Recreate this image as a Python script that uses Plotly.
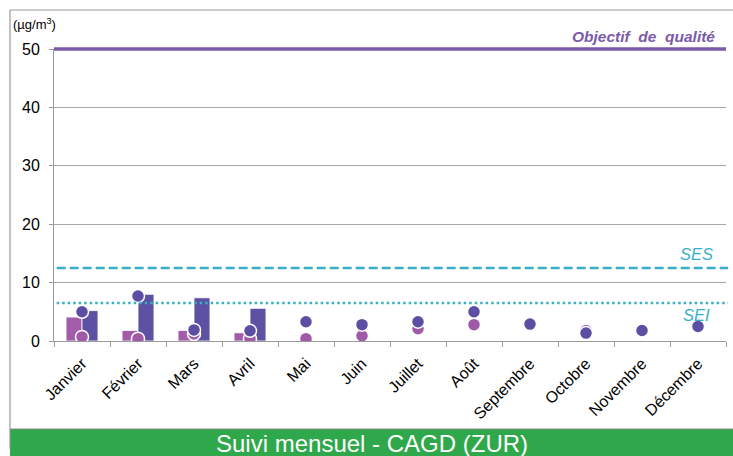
import plotly.graph_objects as go

# Monthly values (µg/m³)
months = ["Janvier", "Février", "Mars", "Avril", "Mai", "Juin", "Juillet",
          "Août", "Septembre", "Octobre", "Novembre", "Décembre"]
bar_site_a = [4.1, 1.8, 1.8, 1.4, None, None, None, None, None, None, None, None]
bar_site_b = [5.2, 8.0, 7.4, 5.6, None, None, None, None, None, None, None, None]
dot_site_a = [0.7, 0.4, 1.2, 0.4, 0.4, 0.9, 2.1, 2.8, 2.9, 1.8, 1.8, 2.7]
dot_site_b = [5.0, 7.7, 1.9, 1.75, 3.3, 2.8, 3.3, 5.0, 2.9, 1.35, 1.8, 2.5]

# Reference thresholds
objectif = 50
ses = 12.5
sei = 6.5

y_ticks = [0, 10, 20, 30, 40, 50]
y_max = 50

PINK_BAR = "#A25CAA"
PURPLE_BAR = "#5D51A3"
PINK_DOT = "#A05AA8"
PURPLE_DOT = "#5B4EA3"
CYAN = "#3AAEC9"
OBJ_COLOR = "#7B5AA8"
GREEN = "#2EA84A"
FONT = "Arial, Liberation Sans, sans-serif"

fig = go.Figure()
fig.add_trace(go.Bar(x=months, y=bar_site_a, marker=dict(color=PINK_BAR, line=dict(color="white", width=0.8)),
                     showlegend=False, hoverinfo="y"))
fig.add_trace(go.Bar(x=months, y=bar_site_b, marker=dict(color=PURPLE_BAR, line=dict(color="white", width=0.8)),
                     showlegend=False, hoverinfo="y"))
fig.add_trace(go.Scatter(x=months, y=dot_site_a, mode="markers",
                         marker=dict(size=13, color=PINK_DOT, line=dict(color="white", width=1.5)),
                         showlegend=False))
fig.add_trace(go.Scatter(x=months, y=dot_site_b, mode="markers",
                         marker=dict(size=13, color=PURPLE_DOT, line=dict(color="white", width=1.5)),
                         showlegend=False))

shapes = [
    # outer frame
    dict(type="line", xref="paper", yref="paper", x0=-0.0655, x1=-0.0655, y0=-0.37, y1=1.1336,
         line=dict(color="#9a9a9a", width=1.2)),
    dict(type="line", xref="paper", yref="paper", x0=-0.0655, x1=1.02, y0=1.1336, y1=1.1336,
         line=dict(color="#9a9a9a", width=1.2)),
    # bottom banner
    dict(type="rect", xref="paper", yref="paper", x0=-0.0655, x1=1.02, y0=-0.40, y1=-0.3014,
         fillcolor=GREEN, line=dict(width=0), layer="below"),
    dict(type="line", xref="paper", yref="paper", x0=-0.0655, x1=1.02, y0=-0.3014, y1=-0.3014,
         line=dict(color="#8a8a8a", width=1.2)),
    # quality objective sits on the top edge; paper coords keep it unclipped
    dict(type="line", xref="paper", yref="paper", x0=0, x1=1.0,
         y0=objectif / y_max, y1=objectif / y_max,
         line=dict(color=OBJ_COLOR, width=3.5)),
    dict(type="line", xref="paper", yref="y", x0=0.004, x1=1.003, y0=ses, y1=ses,
         line=dict(color=CYAN, width=2.5, dash="9px,4px")),
    dict(type="line", xref="paper", yref="y", x0=0.004, x1=1.003, y0=sei, y1=sei,
         line=dict(color=CYAN, width=2.5, dash="2.5px,3px")),
]

annotations = [
    dict(text="(µg/m<sup>3</sup>)", xref="paper", yref="paper", x=-0.064, y=1.12,
         xanchor="left", yanchor="top", showarrow=False, font=dict(family=FONT, size=13, color="black")),
    dict(text="<b><i>Objectif  de  qualité</i></b>", xref="paper", yref="y", x=0.987, y=objectif,
         xanchor="right", yanchor="bottom", yshift=2, showarrow=False,
         font=dict(family=FONT, size=15.5, color=OBJ_COLOR)),
    dict(text="<i>SES</i>", xref="paper", yref="y", x=0.984, y=ses, xanchor="right", yanchor="bottom",
         yshift=3, showarrow=False, font=dict(family=FONT, size=16.5, color=CYAN)),
    dict(text="<i>SEI</i>", xref="paper", yref="y", x=0.979, y=sei, xanchor="right", yanchor="top",
         yshift=-1, showarrow=False, font=dict(family=FONT, size=16.5, color=CYAN)),
    dict(text="Suivi mensuel - CAGD (ZUR)", xref="paper", yref="paper", x=0.473, y=-0.352,
         xanchor="center", yanchor="middle", showarrow=False,
         font=dict(family=FONT, size=24, color="white")),
]

fig.update_layout(
    width=733, height=456,
    margin=dict(l=54, r=7, t=49, b=115),
    paper_bgcolor="white", plot_bgcolor="white",
    barmode="group", bargap=0.43, bargroupgap=0,
    shapes=shapes, annotations=annotations,
    font=dict(family=FONT, color="black"),
    showlegend=False,
)
fig.update_xaxes(
    type="category", range=[-0.5, 11.5], tickangle=-45,
    ticks="outside", tickson="boundaries", ticklen=5, tickcolor="#9a9a9a",
    showline=True, linecolor="#9a9a9a", linewidth=1, showgrid=False,
    ticklabelstandoff=6,
    tickfont=dict(family=FONT, size=16, color="black"),
)
fig.update_yaxes(
    range=[0, y_max], tickvals=y_ticks, ticks="outside", ticklen=4, tickcolor="#9a9a9a",
    showline=True, linecolor="#9a9a9a", linewidth=1,
    showgrid=True, gridcolor="#a8a8a8", gridwidth=1, zeroline=False,
    ticklabelstandoff=6,
    tickfont=dict(family=FONT, size=16, color="black"),
)

fig.write_html("out.html", config={"displayModeBar": False})
